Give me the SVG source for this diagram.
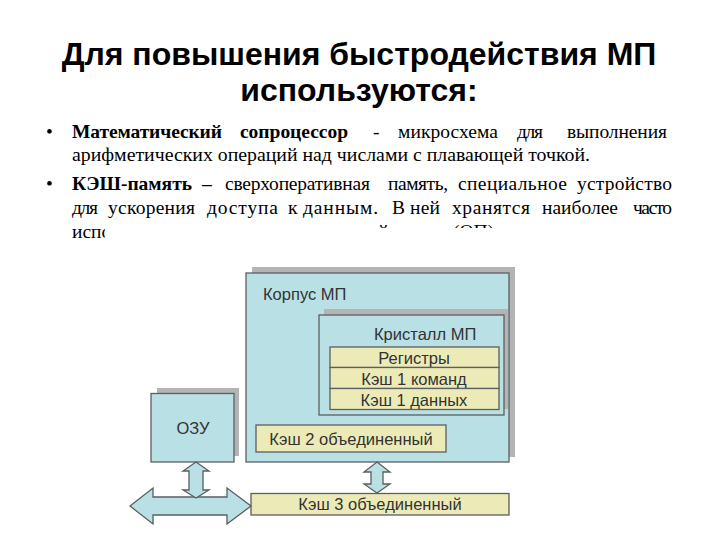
<svg xmlns="http://www.w3.org/2000/svg" width="720" height="540" viewBox="0 0 720 540">
<defs>
<style>
.title{font-family:"Liberation Sans",Arial,sans-serif;font-weight:bold;font-size:32px;fill:#000;text-anchor:middle}
.body{font-family:"Liberation Serif","Times New Roman",serif;font-size:19.5px;fill:#000}
.b{font-weight:bold}
.lbl{font-family:"Liberation Sans",Arial,sans-serif;font-size:16.5px;fill:#333}
.mid{text-anchor:middle}
.blue{fill:#b9e0e5;stroke:#5a5f60;stroke-width:1.3}
.yel{fill:#ecebb8;stroke:#5a5f60;stroke-width:1.3}
.shadow{fill:#b4b4b4}
</style>
<clipPath id="cut">
<rect x="0" y="0" width="105" height="540"/>
<rect x="0" y="0" width="720" height="228"/>
</clipPath>
</defs>
<rect width="720" height="540" fill="#fff"/>
<g id="title">
<text class="title" x="359" y="65">Для повышения быстродействия МП</text>
<text class="title" x="359" y="101">используются:</text>
</g>
<g id="text">
<text class="body" x="46" y="138">•</text>
<text class="body" y="138"><tspan class="b" x="72" textLength="150">Математический</tspan><tspan class="b" x="240" textLength="108">сопроцессор</tspan><tspan x="373">-</tspan><tspan x="398" textLength="100">микросхема</tspan><tspan x="517" textLength="26">для</tspan><tspan x="567" textLength="100">выполнения</tspan></text>
<text class="body" x="72" y="161" textLength="518" lengthAdjust="spacingAndGlyphs">арифметических операций над числами с плавающей точкой.</text>
<text class="body" x="46" y="190">•</text>
<text class="body" y="190"><tspan class="b" x="72" textLength="120">КЭШ-память</tspan><tspan class="b" x="202">–</tspan><tspan x="225" textLength="145">сверхоперативная</tspan><tspan x="388" textLength="60">память,</tspan><tspan x="458" textLength="109">специальное</tspan><tspan x="577" textLength="95">устройство</tspan></text>
<text class="body" y="214"><tspan x="72" textLength="26">для</tspan><tspan x="108" textLength="87">ускорения</tspan><tspan x="207" textLength="71">доступа</tspan><tspan x="288">к</tspan><tspan x="303" textLength="75">данным.</tspan><tspan x="392">В</tspan><tspan x="410" textLength="30">ней</tspan><tspan x="452" textLength="78">хранятся</tspan><tspan x="542" textLength="76">наиболее</tspan><tspan x="633" textLength="39">часто</tspan></text>
<text class="body" y="238" clip-path="url(#cut)"><tspan x="72">используемые данные из оперативной</tspan><tspan x="392">памяти</tspan><tspan x="453">(ОП).</tspan></text>
</g>
<g id="korpus">
<rect class="shadow" x="252" y="267" width="263" height="190"/>
<rect class="blue" x="246" y="273" width="263" height="189"/>
<text class="lbl" x="263" y="300">Корпус МП</text>
</g>
<g id="kristall">
<rect class="shadow" x="324" y="309" width="184" height="100"/>
<rect class="blue" x="319" y="315" width="185" height="100"/>
<text class="lbl" x="374" y="340">Кристалл МП</text>
</g>
<g id="registry">
<rect class="yel" x="330" y="347" width="169" height="20.5"/>
<text class="lbl mid" x="414" y="363.5">Регистры</text>
</g>
<g id="cache1cmd">
<rect class="yel" x="330" y="367.5" width="169" height="21"/>
<text class="lbl mid" x="414" y="384.5">Кэш 1 команд</text>
</g>
<g id="cache1data">
<rect class="yel" x="330" y="388.5" width="169" height="21"/>
<text class="lbl mid" x="414" y="405.5">Кэш 1 данных</text>
</g>
<g id="cache2">
<rect class="yel" x="256" y="425" width="190" height="27"/>
<text class="lbl mid" x="351" y="444.5">Кэш 2 объединенный</text>
</g>
<g id="ozu">
<rect class="shadow" x="157" y="388" width="82" height="68"/>
<rect class="blue" x="151" y="393.5" width="83" height="68.5"/>
<text class="lbl mid" x="193" y="434">ОЗУ</text>
</g>
<g id="cache3">
<rect class="yel" x="251" y="493.5" width="258" height="21.5"/>
<text class="lbl mid" x="380" y="510">Кэш 3 объединенный</text>
</g>
<g id="connectors">
<polygon class="blue" points="130,506 153,488 153,497 227,497 227,488 251,506 227,524 227,515 153,515 153,524"/>
<polygon class="blue" points="196,462 209,471 203,471 203,490 209,490 196,498 183,490 189,490 189,471 183,471"/>
<polygon class="blue" points="377,462 390,472 383,472 383,484 390,484 377,493 364,484 371,484 371,472 364,472"/>
</g>
</svg>
